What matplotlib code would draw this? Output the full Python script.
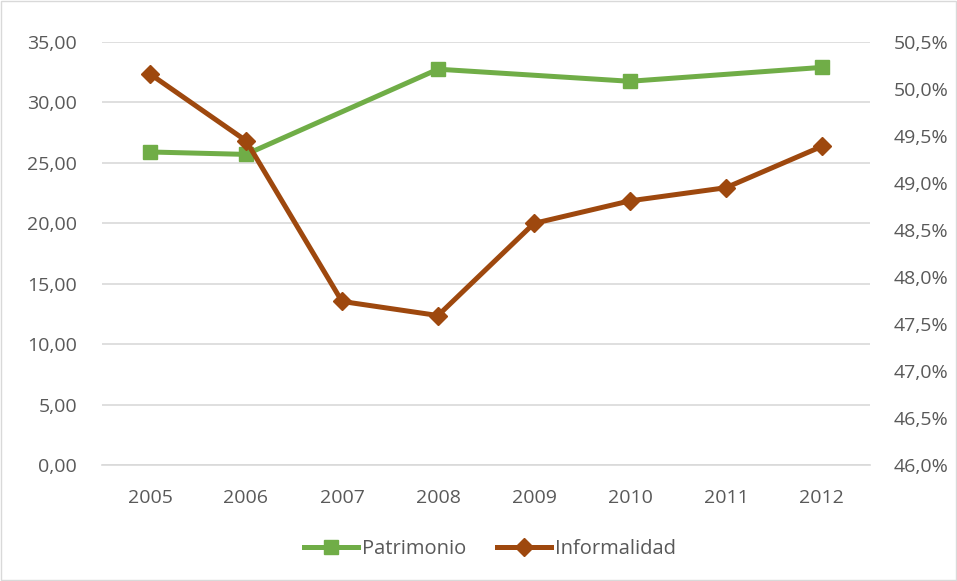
import numpy as np
import matplotlib
matplotlib.use("Agg")
import matplotlib.pyplot as plt
from matplotlib.ticker import FuncFormatter
from matplotlib.patches import Rectangle

years = ["2005", "2006", "2007", "2008", "2009", "2010", "2011", "2012"]
patrimonio = [25.9, 25.7, np.nan, 32.75, np.nan, 31.75, np.nan, 32.9]
informalidad = [50.16, 49.45, 47.74, 47.59, 48.57, 48.81, 48.95, 49.39]

green = "#70ad47"
brown = "#9e480e"
text_c = "#595959"

plt.rcParams['font.family'] = ['Open Sans', 'DejaVu Sans']
fs = 14

fig = plt.figure(figsize=(9.57, 5.81), dpi=100)
ax = fig.add_axes([0.1066, 0.1997, 0.8024, 0.728])
ax2 = ax.twinx()

x = np.arange(len(years))
p = np.array(patrimonio)
m = ~np.isnan(p)
l1, = ax.plot(x[m], p[m], color=green, lw=3.6, marker='s', ms=10, zorder=3,
              label="Patrimonio")
l2, = ax2.plot(x, informalidad, color=brown, lw=3.6, marker='D', ms=9, zorder=3,
               label="Informalidad")

ax.set_xlim(-0.5, len(years) - 0.5)
ax.set_ylim(0, 35)
ax.set_yticks(np.arange(0, 35.1, 5))
ax.yaxis.set_major_formatter(FuncFormatter(lambda v, _: f"{v:.2f}".replace(".", ",")))
ax2.set_ylim(46.0, 50.5)
ax2.set_yticks(np.arange(46.0, 50.51, 0.5))
ax2.yaxis.set_major_formatter(FuncFormatter(lambda v, _: f"{v:.1f}".replace(".", ",") + "%"))

ax.set_xticks(x)
ax.set_xticklabels(years)
ax.grid(axis='y', color="#d9d9d9", lw=1.2)
ax.set_axisbelow(True)

for a in (ax, ax2):
    for s in a.spines.values():
        s.set_visible(False)
    a.tick_params(length=0, labelsize=fs, colors=text_c)
ax.spines['bottom'].set_visible(True)
ax.spines['bottom'].set_color("#d9d9d9")
ax.spines['bottom'].set_linewidth(1.2)
ax.tick_params(axis='x', pad=17)
ax.tick_params(axis='y', pad=18)
ax2.tick_params(axis='y', pad=17)

fig.legend(handles=[l1, l2], loc='center', bbox_to_anchor=(0.512, 0.055), ncol=2,
           frameon=False, fontsize=fs + 0.5, labelcolor=text_c, handlelength=2.7,
           columnspacing=1.5, handletextpad=0.2)

fig.patches.append(Rectangle((0.001, 0.001), 0.998, 0.998, transform=fig.transFigure,
                             fill=False, edgecolor="#d9d9d9", lw=1))

fig.savefig("out.png", dpi=100)
